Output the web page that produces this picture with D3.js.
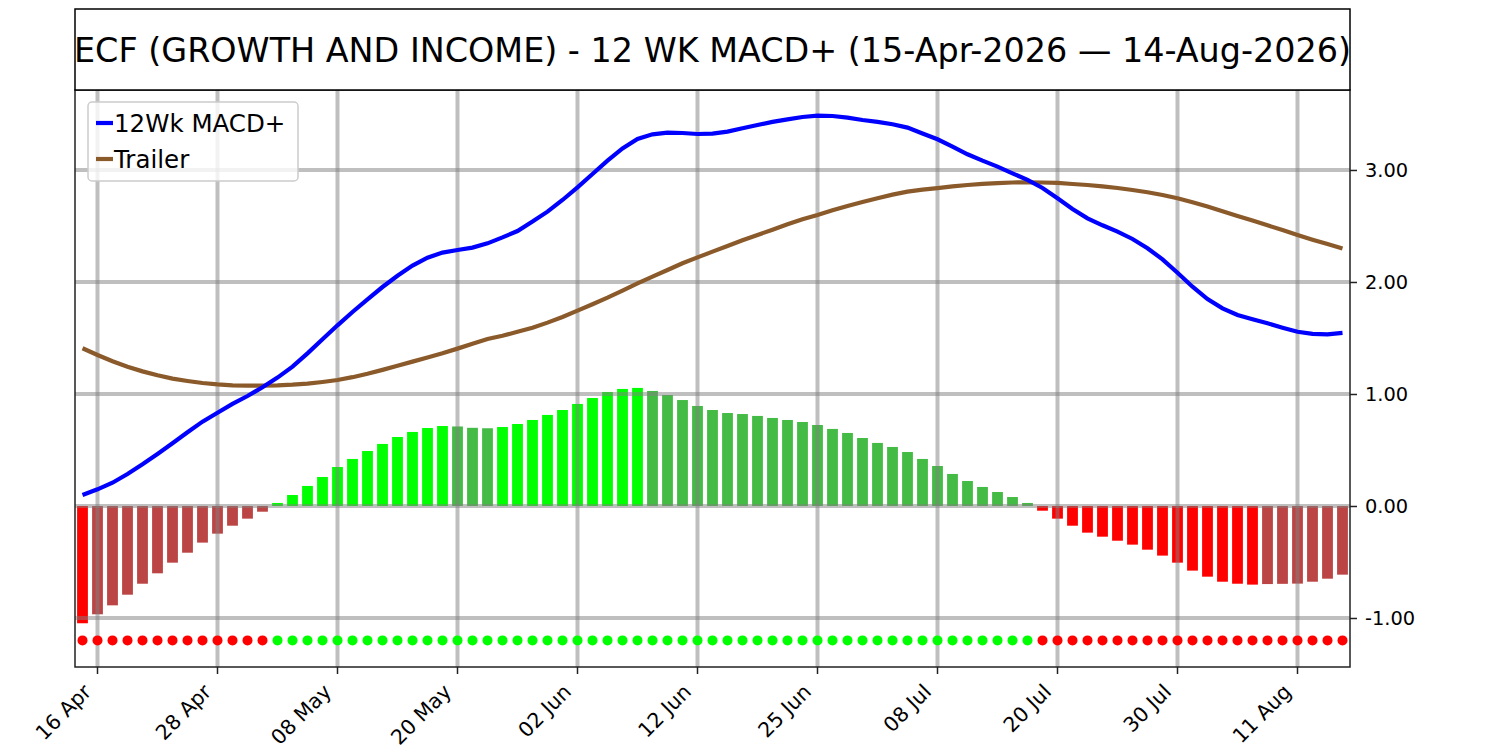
<!DOCTYPE html>
<html><head><meta charset="utf-8">
<script src="https://cdn.jsdelivr.net/npm/d3@7"></script>
<style>body{margin:0;background:#fff;} svg{display:block;font-family:"DejaVu Sans",sans-serif;}</style>
</head><body>
<svg id="chart" width="1500" height="750"></svg>
<script>
const titleText = "ECF (GROWTH AND INCOME) - 12 WK MACD+ (15-Apr-2026 \u2014 14-Aug-2026)";
const dates = [
 "2026-04-15","2026-04-16","2026-04-17","2026-04-20","2026-04-21","2026-04-22","2026-04-23","2026-04-24","2026-04-27","2026-04-28","2026-04-29","2026-04-30",
 "2026-05-01","2026-05-04","2026-05-05","2026-05-06","2026-05-07","2026-05-08","2026-05-11","2026-05-12","2026-05-13","2026-05-14","2026-05-15","2026-05-18","2026-05-19","2026-05-20","2026-05-21","2026-05-22","2026-05-26","2026-05-27","2026-05-28","2026-05-29",
 "2026-06-01","2026-06-02","2026-06-03","2026-06-04","2026-06-05","2026-06-08","2026-06-09","2026-06-10","2026-06-11","2026-06-12","2026-06-15","2026-06-16","2026-06-17","2026-06-18","2026-06-22","2026-06-23","2026-06-24","2026-06-25","2026-06-26","2026-06-29","2026-06-30",
 "2026-07-01","2026-07-02","2026-07-06","2026-07-07","2026-07-08","2026-07-09","2026-07-10","2026-07-13","2026-07-14","2026-07-15","2026-07-16","2026-07-17","2026-07-20","2026-07-21","2026-07-22","2026-07-23","2026-07-24","2026-07-27","2026-07-28","2026-07-29","2026-07-30","2026-07-31",
 "2026-08-03","2026-08-04","2026-08-05","2026-08-06","2026-08-07","2026-08-10","2026-08-11","2026-08-12","2026-08-13","2026-08-14"];
const macd = [0.098,0.149,0.208,0.286,0.372,0.464,0.560,0.658,0.753,0.833,0.911,0.982,1.060,1.146,1.244,1.363,1.488,1.613,1.732,1.845,
 1.955,2.056,2.146,2.217,2.262,2.286,2.307,2.345,2.398,2.455,2.539,2.628,2.732,2.845,2.964,3.083,3.193,3.277,3.318,3.333,
 3.330,3.321,3.324,3.342,3.372,3.402,3.429,3.452,3.473,3.485,3.482,3.467,3.446,3.429,3.408,3.378,3.325,3.274,3.208,3.140,
 3.083,3.030,2.970,2.911,2.839,2.747,2.652,2.568,2.506,2.449,2.384,2.301,2.202,2.083,1.958,1.848,1.765,1.705,1.667,1.631,
 1.592,1.556,1.536,1.533,1.545];
const trailer = [1.408,1.348,1.292,1.244,1.202,1.167,1.137,1.116,1.098,1.086,1.077,1.074,1.074,1.077,1.083,1.092,1.107,1.125,1.150,1.180,
 1.215,1.252,1.289,1.326,1.363,1.405,1.449,1.491,1.520,1.555,1.592,1.637,1.688,1.744,1.801,1.860,1.923,1.988,2.048,2.107,
 2.167,2.220,2.271,2.321,2.372,2.420,2.467,2.515,2.560,2.598,2.640,2.679,2.714,2.747,2.780,2.807,2.825,2.838,2.854,2.866,
 2.876,2.883,2.888,2.890,2.888,2.884,2.875,2.866,2.854,2.839,2.821,2.801,2.777,2.747,2.711,2.673,2.631,2.589,2.548,2.506,
 2.464,2.420,2.378,2.339,2.298];
const hist = [-1.047,-0.967,-0.887,-0.792,-0.694,-0.601,-0.506,-0.417,-0.327,-0.247,-0.176,-0.113,-0.051,0.027,0.098,0.179,0.259,0.348,0.420,0.491,
 0.554,0.616,0.661,0.696,0.714,0.710,0.698,0.694,0.705,0.732,0.768,0.813,0.857,0.911,0.964,1.018,1.045,1.054,1.027,0.991,
 0.946,0.893,0.857,0.830,0.821,0.804,0.786,0.768,0.750,0.723,0.688,0.652,0.607,0.563,0.527,0.482,0.420,0.357,0.286,0.223,
 0.170,0.125,0.080,0.027,-0.042,-0.113,-0.176,-0.238,-0.274,-0.310,-0.345,-0.390,-0.443,-0.506,-0.577,-0.631,-0.676,-0.694,-0.702,-0.697,
 -0.695,-0.693,-0.676,-0.649,-0.613];
const dotLevel = -1.2;
const yTicks = [-1, 0, 1, 2, 3];
const xTickIdx = [1, 9, 17, 25, 33, 41, 49, 57, 65, 73, 81];
const seriesNames = ["12Wk MACD+", "Trailer"];

const colors = {macd:"#0000ff", trailer:"#8b5a2b", upG:"#00ff00", dnG:"#44bb44", dnR:"#ff0000", upR:"#bb4444"};

const svg = d3.select("#chart");
const L = 75, R = 1350, T = 90, B = 667;
const x = d3.scaleLinear().domain([-0.5, dates.length - 0.5]).range([L, R]);
const y = d3.scaleLinear().domain([-1.4375, 3.714]).range([B, T]);
const step = x(1) - x(0);
const bw = step * 0.72;

function barColor(v, i) {
  const prev = i > 0 ? hist[i-1] : null;
  if (v >= 0) return (prev === null || v >= prev) ? colors.upG : colors.dnG;
  return (prev === null || v <= prev) ? colors.dnR : colors.upR;
}

// bars
svg.append("g").selectAll("rect").data(hist).join("rect")
  .attr("x", (d,i) => x(i) - bw/2)
  .attr("width", bw)
  .attr("y", d => y(Math.max(0, d)))
  .attr("height", d => Math.abs(y(d) - y(0)))
  .attr("fill", (d,i) => barColor(d,i));

// grid
const grid = svg.append("g").attr("stroke", "#808080").attr("stroke-opacity", 0.5).attr("stroke-width", 4);
grid.selectAll("line.h").data(yTicks).join("line").attr("class","h")
  .attr("x1", L).attr("x2", R).attr("y1", d => y(d)).attr("y2", d => y(d));
grid.selectAll("line.v").data(xTickIdx).join("line").attr("class","v")
  .attr("x1", d => x(d)).attr("x2", d => x(d)).attr("y1", T).attr("y2", B);

// lines
const line = d3.line().x((d,i) => x(i)).y(d => y(d)).curve(d3.curveLinear);
svg.append("path").datum(trailer).attr("d", line).attr("fill","none")
  .attr("stroke", colors.trailer).attr("stroke-width", 4.2);
svg.append("path").datum(macd).attr("d", line).attr("fill","none")
  .attr("stroke", colors.macd).attr("stroke-width", 4.2);

// dots
svg.append("g").selectAll("circle").data(hist).join("circle")
  .attr("cx", (d,i) => x(i)).attr("cy", y(dotLevel)).attr("r", 5)
  .attr("fill", d => d >= 0 ? colors.upG : colors.dnR);

// axes
const yAxis = d3.axisRight(y).tickValues(yTicks).tickFormat(d => d.toFixed(2)).tickSize(7).tickPadding(8);
const gy = svg.append("g").attr("transform", `translate(${R},0)`).call(yAxis);
gy.select(".domain").remove();
gy.selectAll(".tick line").attr("stroke", "#222").attr("stroke-width", 1.5);
gy.selectAll(".tick text").attr("font-size", 19.4).attr("font-family", "DejaVu Sans").attr("fill", "#000");

const parse = d3.timeParse("%Y-%m-%d");
const fmt = d3.timeFormat("%d %b");
const gx = svg.append("g");
gx.selectAll("line").data(xTickIdx).join("line")
  .attr("x1", d => x(d)).attr("x2", d => x(d)).attr("y1", B).attr("y2", B + 7)
  .attr("stroke", "#222").attr("stroke-width", 1.5);
gx.selectAll("text").data(xTickIdx).join("text")
  .attr("transform", d => `translate(${x(d) - 5},${B + 26}) rotate(-45)`)
  .attr("text-anchor", "end")
  .attr("font-size", 20.5).attr("fill", "#000")
  .text(d => fmt(parse(dates[d])));

// spines
svg.append("rect").attr("x", L).attr("y", T).attr("width", R - L).attr("height", B - T)
  .attr("fill", "none").attr("stroke", "#222").attr("stroke-width", 1.5);

// title box
svg.append("rect").attr("x", L).attr("y", 9).attr("width", R - L).attr("height", T - 9)
  .attr("fill", "#fff").attr("stroke", "#000").attr("stroke-width", 1.5);
svg.append("text").attr("x", (L + R)/2).attr("y", 62).attr("text-anchor", "middle")
  .attr("font-size", 33.4).attr("fill", "#000").text(titleText);

// legend
const lg = svg.append("g");
lg.append("rect").attr("x", 88).attr("y", 102).attr("width", 210).attr("height", 79).attr("rx", 4)
  .attr("fill", "#fff").attr("fill-opacity", 0.8).attr("stroke", "#cccccc").attr("stroke-width", 1.5);
[colors.macd, colors.trailer].forEach((c, k) => {
  const yy = 123 + k * 36;
  lg.append("line").attr("x1", 96).attr("x2", 113).attr("y1", yy).attr("y2", yy)
    .attr("stroke", c).attr("stroke-width", 4.2);
  lg.append("text").attr("x", 114).attr("y", yy + 8.5).attr("font-size", 24.5).attr("fill", "#000")
    .text(seriesNames[k]);
});
</script>
</body></html>
